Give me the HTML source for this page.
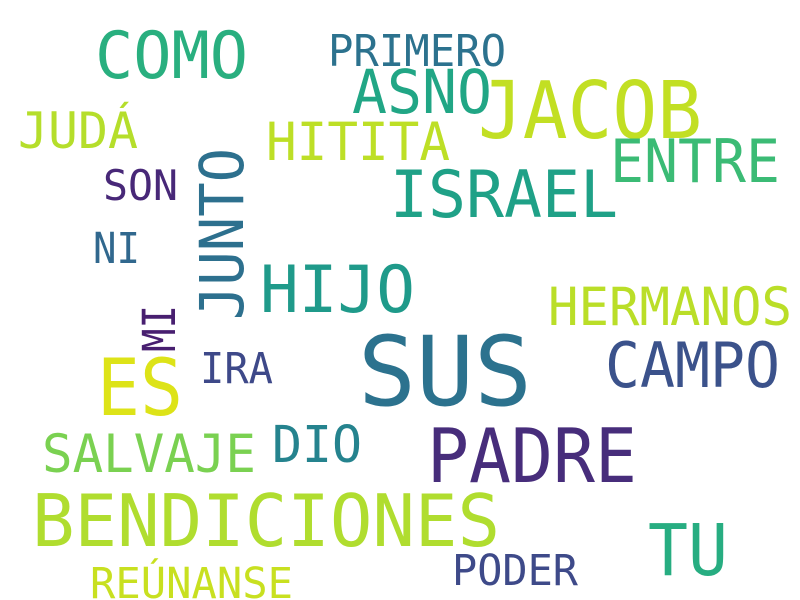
<!DOCTYPE html>
<html><head><meta charset="utf-8"><style>
html,body{margin:0;padding:0;background:#fff;}
svg{display:block}
text{font-family:"DejaVu Sans Mono","Liberation Mono",monospace;}
</style></head><body>
<svg width="800" height="600" viewBox="0 0 800 600">
<rect width="800" height="600" fill="#fff"/>
<text x="95" y="78" font-size="65" fill="#29af7f" textLength="153" lengthAdjust="spacingAndGlyphs">COMO</text>
<text x="328" y="66" font-size="44" fill="#2c728e" textLength="178" lengthAdjust="spacingAndGlyphs">PRIMERO</text>
<text x="352" y="113" font-size="61" fill="#21a685" textLength="140" lengthAdjust="spacingAndGlyphs">ASNO</text>
<text x="478" y="138" font-size="79" fill="#c2df23" textLength="224" lengthAdjust="spacingAndGlyphs">JACOB</text>
<text x="18" y="148" font-size="50" fill="#b5de2b" textLength="120" lengthAdjust="spacingAndGlyphs">JUDÁ</text>
<text x="266" y="160" font-size="53" fill="#bddf26" textLength="184" lengthAdjust="spacingAndGlyphs">HITITA</text>
<text x="610" y="182" font-size="60" fill="#3bbb75" textLength="170" lengthAdjust="spacingAndGlyphs">ENTRE</text>
<text x="103" y="200" font-size="42" fill="#482878" textLength="75" lengthAdjust="spacingAndGlyphs">SON</text>
<text x="390" y="217" font-size="65" fill="#1fa187" textLength="228" lengthAdjust="spacingAndGlyphs">ISRAEL</text>
<text transform="translate(243,320) rotate(-90)" x="0" y="0" font-size="61" fill="#2d708e" textLength="172" lengthAdjust="spacingAndGlyphs">JUNTO</text>
<text x="93" y="263" font-size="43" fill="#31688e" textLength="47" lengthAdjust="spacingAndGlyphs">NI</text>
<text x="260" y="312" font-size="65" fill="#1f9a8a" textLength="155" lengthAdjust="spacingAndGlyphs">HIJO</text>
<text x="548" y="325" font-size="53" fill="#bade28" textLength="244" lengthAdjust="spacingAndGlyphs">HERMANOS</text>
<text transform="translate(175,352) rotate(-90)" x="0" y="0" font-size="45" fill="#481f70" textLength="47" lengthAdjust="spacingAndGlyphs">MI</text>
<text x="358" y="405" font-size="96" fill="#2c728e" textLength="174" lengthAdjust="spacingAndGlyphs">SUS</text>
<text x="97" y="415" font-size="78" fill="#dde318" textLength="86" lengthAdjust="spacingAndGlyphs">ES</text>
<text x="200" y="383" font-size="43" fill="#3e4989" textLength="73" lengthAdjust="spacingAndGlyphs">IRA</text>
<text x="605" y="387" font-size="62" fill="#3b528b" textLength="175" lengthAdjust="spacingAndGlyphs">CAMPO</text>
<text x="42" y="472" font-size="53" fill="#7ad151" textLength="214" lengthAdjust="spacingAndGlyphs">SALVAJE</text>
<text x="272" y="462" font-size="51" fill="#25838e" textLength="90" lengthAdjust="spacingAndGlyphs">DIO</text>
<text x="427" y="482" font-size="75" fill="#472d7b" textLength="210" lengthAdjust="spacingAndGlyphs">PADRE</text>
<text x="32" y="546" font-size="72" fill="#b0dd2f" textLength="468" lengthAdjust="spacingAndGlyphs">BENDICIONES</text>
<text x="648" y="575" font-size="71" fill="#27ad81" textLength="80" lengthAdjust="spacingAndGlyphs">TU</text>
<text x="452" y="585" font-size="43" fill="#3e4a89" textLength="126" lengthAdjust="spacingAndGlyphs">PODER</text>
<text x="90" y="598" font-size="43" fill="#c8e020" textLength="203" lengthAdjust="spacingAndGlyphs">REÚNANSE</text>
</svg>
</body></html>
